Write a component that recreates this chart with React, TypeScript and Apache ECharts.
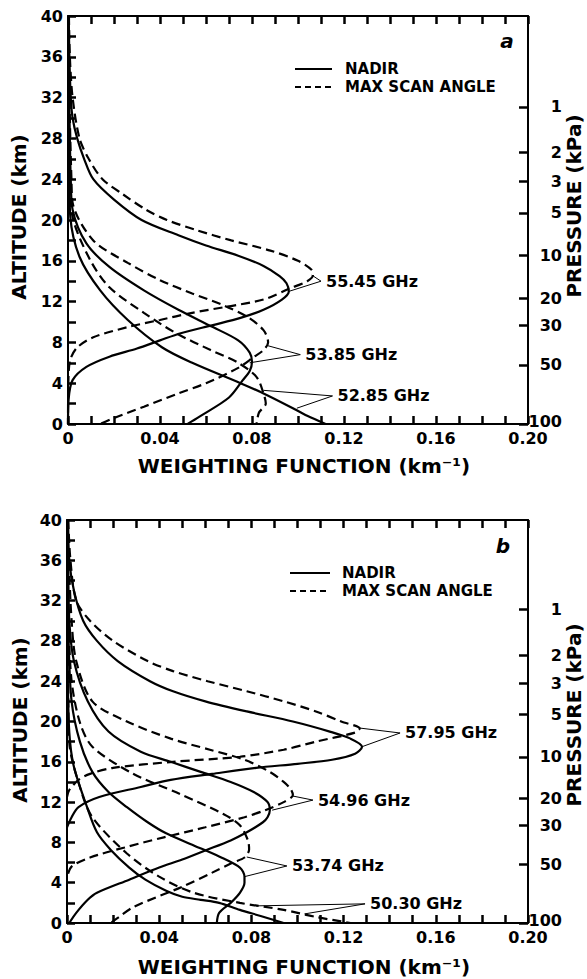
import React, { useEffect, useRef } from "react";
import * as echarts from "echarts";

// ---------------- Panel a : altitude (km) / weighting function (km^-1) ----------------
const a5545NadirAlt = [40, 36, 32, 30, 28, 26, 24, 22, 20, 18.5, 17.5, 16.5, 15.5, 14.5, 13.8, 13.0, 12.2, 11.2, 10.4, 9.7, 8.9, 8.2, 7.4, 6.6, 5.6, 4.3, 2.5, 0];
const a5545NadirW = [0.0003, 0.0006, 0.0012, 0.002, 0.004, 0.007, 0.011, 0.020, 0.032, 0.048, 0.060, 0.074, 0.085, 0.092, 0.095, 0.096, 0.093, 0.085, 0.075, 0.063, 0.049, 0.040, 0.030, 0.018, 0.008, 0.002, 0.0003, 0];
const a5545ScanAlt = [40, 36, 32, 28, 26, 24, 22.5, 21, 20, 19, 18, 17, 16, 15.1, 14.6, 14.0, 13.3, 12.2, 11.5, 10.9, 10.2, 9.5, 8.5, 7.5, 6.3, 4.5, 0];
const a5545ScanW = [0.0004, 0.0008, 0.002, 0.005, 0.009, 0.015, 0.024, 0.034, 0.043, 0.056, 0.071, 0.088, 0.100, 0.106, 0.1065, 0.104, 0.0965, 0.085, 0.069, 0.054, 0.040, 0.026, 0.011, 0.004, 0.001, 0.0002, 0];

const a5385NadirAlt = [40, 34, 28, 24, 21, 17.7, 15.4, 13.1, 11.2, 9.5, 8.2, 7.0, 6.1, 5.2, 4.3, 2.6, 0.7, 0];
const a5385NadirW = [0.0002, 0.0004, 0.0008, 0.0012, 0.002, 0.008, 0.018, 0.033, 0.048, 0.063, 0.074, 0.079, 0.080, 0.079, 0.076, 0.070, 0.057, 0.052];
const a5385ScanAlt = [40, 34, 28, 24, 21.7, 18, 15.8, 14.1, 12.8, 11.6, 10.5, 9.2, 8.0, 7.25, 6.6, 5.5, 4.0, 3.0, 1.7, 0.5, 0];
const a5385ScanW = [0.0003, 0.0005, 0.001, 0.0015, 0.002, 0.011, 0.026, 0.040, 0.054, 0.068, 0.078, 0.085, 0.087, 0.085, 0.081, 0.074, 0.060, 0.048, 0.033, 0.019, 0.014];

const a5285NadirAlt = [40, 32, 28, 24, 20.3, 16.4, 13.1, 10.2, 7.5, 6.0, 4.0, 3.0, 1.7, 0.8, 0];
const a5285NadirW = [0.0001, 0.0002, 0.0003, 0.0006, 0.001, 0.005, 0.014, 0.026, 0.041, 0.054, 0.075, 0.085, 0.0965, 0.104, 0.112];
const a5285ScanAlt = [40, 32, 28, 24, 20.3, 16.1, 13.4, 10.9, 8.9, 7.25, 6.0, 4.6, 3.0, 2.0, 1.1, 0];
const a5285ScanW = [0.0002, 0.0003, 0.0005, 0.001, 0.002, 0.0096, 0.018, 0.033, 0.047, 0.062, 0.074, 0.082, 0.085, 0.086, 0.083, 0.082];

const aChannelLabels = ["55.45 GHz", "53.85 GHz", "52.85 GHz"];
const aAnchorW = [0.110, 0.101, 0.115];
const aAnchorAlt = [14.0, 6.8, 2.75];
const aScanTipW = [0.106, 0.0865, 0.085];
const aScanTipAlt = [14.6, 7.7, 3.3];
const aNadirTipW = [0.096, 0.079, 0.0995];
const aNadirTipAlt = [13.0, 6.0, 1.55];

// ---------------- Panel b ----------------
const b5795NadirAlt = [40, 36, 33, 30, 28, 26, 24, 23, 22, 21, 20, 19, 18.3, 17.5, 16.8, 16.2, 15.8, 15.4, 14.8, 14.2, 13.5, 12.5, 11.5, 10.5, 9.5];
const b5795NadirW = [0.0005, 0.001, 0.003, 0.007, 0.013, 0.022, 0.036, 0.046, 0.060, 0.078, 0.098, 0.114, 0.123, 0.128, 0.125, 0.115, 0.100, 0.082, 0.063, 0.045, 0.032, 0.014, 0.005, 0.002, 0];
const b5795ScanAlt = [40, 36, 32, 30, 28, 26, 25, 24, 23, 22, 21, 20, 19.3, 18.9, 18.0, 17.2, 16.5, 16.0, 15.4, 14.8, 14.2, 13.2, 12.5];
const b5795ScanW = [0.0005, 0.0015, 0.004, 0.010, 0.020, 0.035, 0.046, 0.061, 0.078, 0.094, 0.108, 0.119, 0.127, 0.125, 0.108, 0.094, 0.075, 0.046, 0.020, 0.010, 0.005, 0.001, 0];

const b5496NadirAlt = [40, 36, 30, 26, 22, 19, 17, 16, 15, 14, 13, 12, 11.2, 10.5, 10.0, 9.0, 8.2, 7.2, 6.3, 5.5, 4.3, 3.0, 2.3, 1.0, 0];
const b5496NadirW = [0.0002, 0.0005, 0.001, 0.003, 0.009, 0.018, 0.032, 0.045, 0.058, 0.071, 0.081, 0.087, 0.088, 0.087, 0.085, 0.078, 0.071, 0.060, 0.050, 0.040, 0.027, 0.013, 0.009, 0.004, 0.001];
const b5496ScanAlt = [40, 36, 30, 26, 22, 20, 18.3, 17.2, 16.2, 15, 14, 13.3, 12.7, 12.0, 11.2, 10.5, 9.5, 8.5, 7.5, 6.5, 5.6, 4.5];
const b5496ScanW = [0.0003, 0.0008, 0.002, 0.004, 0.011, 0.026, 0.045, 0.062, 0.077, 0.088, 0.094, 0.097, 0.098, 0.094, 0.086, 0.077, 0.060, 0.042, 0.025, 0.010, 0.002, 0];

const b5374NadirAlt = [40, 36, 28, 22, 18, 15, 13, 11.5, 10, 8.9, 7.7, 6.6, 5.5, 4.6, 4.0, 3.0, 2.0, 1.0, 0];
const b5374NadirW = [0.0001, 0.0002, 0.0007, 0.002, 0.0056, 0.011, 0.018, 0.026, 0.035, 0.043, 0.055, 0.066, 0.075, 0.077, 0.077, 0.075, 0.071, 0.066, 0.065];
const b5374ScanAlt = [40, 38, 30, 24, 19.9, 17.5, 14.9, 12.8, 10.8, 9.7, 8.2, 7.3, 6.5, 6.0, 5.0, 3.6, 1.6, 0.5, 0];
const b5374ScanW = [0.0001, 0.0002, 0.0007, 0.002, 0.0056, 0.011, 0.028, 0.049, 0.068, 0.075, 0.0785, 0.079, 0.077, 0.072, 0.063, 0.050, 0.029, 0.022, 0.019];

const b5030NadirAlt = [32, 25, 18.9, 15.5, 11.5, 9, 7.25, 5.5, 4.3, 3.2, 2.6, 2.3, 2.0, 1.3, 0.7, 0];
const b5030NadirW = [0.0001, 0.0003, 0.001, 0.003, 0.0087, 0.013, 0.019, 0.027, 0.034, 0.043, 0.050, 0.058, 0.066, 0.075, 0.084, 0.094];
const b5030ScanAlt = [32, 24, 17.9, 13.5, 10.5, 6.9, 4.6, 3.0, 2.0, 1.3, 0.6, 0];
const b5030ScanW = [0.0002, 0.0005, 0.001, 0.0056, 0.011, 0.026, 0.040, 0.055, 0.075, 0.094, 0.108, 0.123];

const bChannelLabels = ["57.95 GHz", "54.96 GHz", "53.74 GHz", "50.30 GHz"];
const bAnchorW = [0.1445, 0.1067, 0.0954, 0.1293];
const bAnchorAlt = [18.86, 12.2, 5.66, 1.9];
const bScanTipW = [0.127, 0.098, 0.078, 0.103];
const bScanTipAlt = [19.35, 12.6, 6.55, 0.9];
const bNadirTipW = [0.128, 0.089, 0.077, 0.082];
const bNadirTipAlt = [17.5, 11.2, 4.6, 1.7];

// ---------------- axis ticks / tick labels ----------------
const pressureLabels = ["1", "2", "3", "5", "10", "20", "30", "50", "100"];
const pressureAltitudes = [31.1, 26.6, 23.8, 20.7, 16.5, 12.35, 9.7, 5.8, 0];
const altMin = 0;
const altMax = 40;
const altitudeTickStep = 2;
const altitudeLabelStep = 4;
const weightMin = 0;
const weightMax = 0.2;
const weightTickStep = 0.01;

const FONT = '"DejaVu Sans", sans-serif';
const NADIR = "NADIR";
const SCAN = "MAX SCAN ANGLE";

const zip = (w: number[], h: number[]) => w.map((v, i) => [v, h[i]]);

function curve(name: string, w: number[], h: number[], gi: number) {
  const dashed = name === SCAN;
  return {
    type: "line",
    name,
    xAxisIndex: gi * 2,
    yAxisIndex: gi * 2,
    data: zip(w, h),
    smooth: 0.3,
    symbol: "none",
    silent: true,
    z: 3,
    lineStyle: { color: "#000", width: 2.2, type: dashed ? [9, 5] : "solid" },
  };
}

function leaders(
  labels: string[], aw: number[], ah: number[], sw: number[], sh: number[], nw: number[], nh: number[], gi: number
) {
  return labels.map((lab, i) => ({
    type: "line",
    name: lab,
    xAxisIndex: gi * 2,
    yAxisIndex: gi * 2,
    symbol: "circle",
    symbolSize: 0,
    silent: true,
    z: 4,
    lineStyle: { color: "#000", width: 1 },
    data: [
      [sw[i], sh[i]],
      {
        value: [aw[i], ah[i]],
        label: {
          show: true,
          position: "right",
          distance: 5,
          formatter: lab,
          color: "#000",
          fontFamily: FONT,
          fontWeight: "bold",
          fontSize: 16,
        },
      },
      [nw[i], nh[i]],
    ],
  }));
}

const xFmt = (v: number) => {
  const n = Math.round(v * 100);
  if (n % 4 !== 0) return "";
  return n === 0 ? "0" : (n / 100).toFixed(2);
};
const yFmt = (v: number) => {
  const n = Math.round(v);
  return n % altitudeLabelStep === 0 ? String(n) : "";
};
const pFmt = (v: number) => {
  const i = pressureAltitudes.indexOf(v);
  if (i < 0) return "";
  return v === 0 ? "{low|" + pressureLabels[i] + "}" : pressureLabels[i];
};

const labelFont = { color: "#000", fontFamily: FONT, fontWeight: "bold", fontSize: 16 };
const mkLine = () => ({ show: true, onZero: false, lineStyle: { color: "#000", width: 2 } });
const mkTick = (len: number) => ({
  show: true,
  inside: true,
  length: len,
  lineStyle: { color: "#000", width: 2.5, opacity: 1 },
});

function xAxes(gi: number) {
  return [
    {
      type: "value",
      gridIndex: gi,
      min: weightMin,
      max: weightMax,
      interval: weightTickStep,
      position: "bottom",
      axisLine: mkLine(),
      splitLine: { show: false },
      axisTick: mkTick(8),
      axisLabel: { ...labelFont, show: true, margin: 6, formatter: xFmt },
    },
    {
      type: "value",
      gridIndex: gi,
      min: weightMin,
      max: weightMax,
      interval: weightTickStep,
      position: "top",
      axisLine: mkLine(),
      splitLine: { show: false },
      axisTick: mkTick(8),
      axisLabel: { show: false },
    },
  ];
}
function yAxes(gi: number) {
  return [
    {
      type: "value",
      gridIndex: gi,
      position: "left",
      min: altMin,
      max: altMax,
      interval: altitudeTickStep,
      axisLine: mkLine(),
      splitLine: { show: false },
      axisTick: mkTick(8),
      axisLabel: { ...labelFont, show: true, margin: 5, formatter: yFmt },
    },
    {
      type: "value",
      gridIndex: gi,
      position: "right",
      min: altMin,
      max: altMax,
      axisLine: mkLine(),
      splitLine: { show: false },
      axisTick: { ...mkTick(9), customValues: pressureAltitudes },
      axisLabel: {
        ...labelFont,
        show: true,
        margin: 34,
        align: "right",
        customValues: pressureAltitudes,
        formatter: pFmt,
        rich: { low: { ...labelFont, padding: [0, 0, 6, 0] } },
      },
    },
  ];
}

function txt(text: string, x: number, y: number, size: number, opts: any = {}) {
  return {
    type: "text",
    x,
    y,
    rotation: opts.rotation || 0,
    silent: true,
    style: {
      text,
      fill: "#000",
      fontFamily: FONT,
      fontWeight: "bold",
      fontStyle: opts.italic ? "italic" : "normal",
      fontSize: size,
      align: opts.align || "center",
      verticalAlign: "middle",
    },
  };
}
function legendLine(x1: number, x2: number, y: number, dashed: boolean) {
  return {
    type: "line",
    silent: true,
    shape: { x1, y1: y, x2, y2: y },
    style: { stroke: "#000", lineWidth: 2, lineDash: dashed ? [6, 4] : null },
  };
}

const GRIDS = [
  { left: 68, top: 16, width: 460, height: 408 },
  { left: 67, top: 520, width: 461, height: 403 },
];

export default function App() {
  const ref = useRef<HTMLDivElement>(null);
  useEffect(() => {
    if (!ref.current) return;
    const chart = echarts.init(ref.current, null, { renderer: "svg" });
    const R = Math.PI / 2;
    const option: any = {
      animation: false,
      backgroundColor: "#fff",
      grid: GRIDS,
      xAxis: [...xAxes(0), ...xAxes(1)],
      yAxis: [...yAxes(0), ...yAxes(1)],
      series: [
        curve(NADIR, a5545NadirW, a5545NadirAlt, 0),
        curve(SCAN, a5545ScanW, a5545ScanAlt, 0),
        curve(NADIR, a5385NadirW, a5385NadirAlt, 0),
        curve(SCAN, a5385ScanW, a5385ScanAlt, 0),
        curve(NADIR, a5285NadirW, a5285NadirAlt, 0),
        curve(SCAN, a5285ScanW, a5285ScanAlt, 0),
        ...leaders(aChannelLabels, aAnchorW, aAnchorAlt, aScanTipW, aScanTipAlt, aNadirTipW, aNadirTipAlt, 0),
        curve(NADIR, b5795NadirW, b5795NadirAlt, 1),
        curve(SCAN, b5795ScanW, b5795ScanAlt, 1),
        curve(NADIR, b5496NadirW, b5496NadirAlt, 1),
        curve(SCAN, b5496ScanW, b5496ScanAlt, 1),
        curve(NADIR, b5374NadirW, b5374NadirAlt, 1),
        curve(SCAN, b5374ScanW, b5374ScanAlt, 1),
        curve(NADIR, b5030NadirW, b5030NadirAlt, 1),
        curve(SCAN, b5030ScanW, b5030ScanAlt, 1),
        ...leaders(bChannelLabels, bAnchorW, bAnchorAlt, bScanTipW, bScanTipAlt, bNadirTipW, bNadirTipAlt, 1),
      ],
      graphic: [
        txt("ALTITUDE (km)", 19, 217, 20, { rotation: R }),
        txt("ALTITUDE (km)", 20, 720, 20, { rotation: R }),
        txt("PRESSURE (kPa)", 574, 206, 20, { rotation: R }),
        txt("PRESSURE (kPa)", 574, 715, 20, { rotation: R }),
        txt("WEIGHTING FUNCTION (km⁻¹)", 304, 466, 20),
        txt("WEIGHTING FUNCTION (km⁻¹)", 304, 967, 20),
        txt("a", 507, 41, 20, { italic: true }),
        txt("b", 503, 546, 20, { italic: true }),
        legendLine(295, 332, 69, false),
        legendLine(295, 332, 87, true),
        txt(NADIR, 345, 69, 15, { align: "left" }),
        txt(SCAN, 345, 87, 15, { align: "left" }),
        legendLine(290, 330, 573, false),
        legendLine(290, 330, 591, true),
        txt(NADIR, 342, 573, 15, { align: "left" }),
        txt(SCAN, 342, 591, 15, { align: "left" }),
      ],
    };
    chart.setOption(option);
    return () => chart.dispose();
  }, []);
  return (
    <div
      ref={ref}
      style={{ position: "absolute", left: 0, top: 0, width: 587, height: 979, background: "#fff" }}
    />
  );
}
